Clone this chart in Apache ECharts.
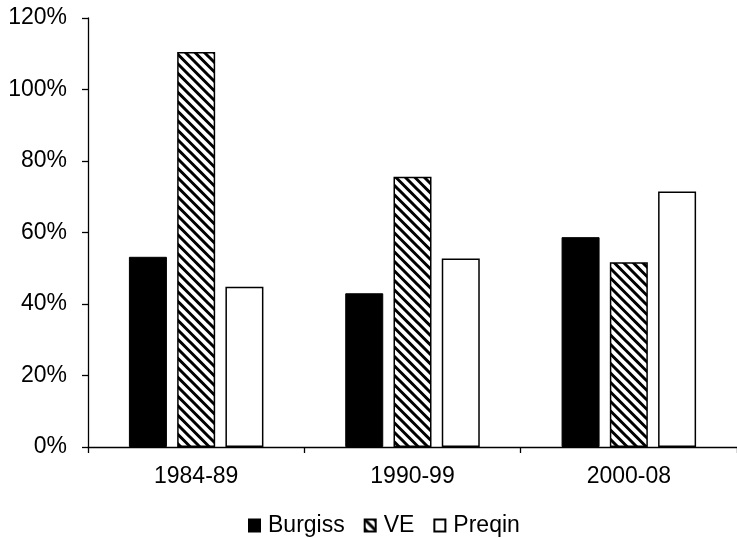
<!DOCTYPE html>
<html>
<head>
<meta charset="utf-8">
<script src="https://cdn.jsdelivr.net/npm/echarts@6/dist/echarts.min.js"></script>
<style>
html,body{margin:0;padding:0;background:#fff;}
#c{width:737px;height:538px;}
</style>
</head>
<body>
<div id="c"></div>
<script>
var categories = ['1984-89', '1990-99', '2000-08'];
var burgiss = [53.2, 43.0, 58.7];
var ve = [110.5, 75.6, 51.7];
var preqin = [44.8, 52.7, 71.5];
var yTicks = [0, 20, 40, 60, 80, 100, 120];

function hatch() {
  var s = 9.5;
  var n = 19;
  var c = document.createElement('canvas');
  c.width = n; c.height = n;
  var g = c.getContext('2d');
  g.fillStyle = '#fff';
  g.fillRect(0, 0, n, n);
  g.strokeStyle = '#000';
  g.lineWidth = 3;
  g.beginPath();
  for (var k = -3; k <= 3; k++) {
    g.moveTo(k * s - 2, -2);
    g.lineTo(k * s + n + 2, n + 2);
  }
  g.stroke();
  return c;
}

var font = 'Liberation Sans, Arial, sans-serif';
var chart = echarts.init(document.getElementById('c'));
chart.setOption({
  animation: false,
  backgroundColor: '#fff',
  grid: {left: 88, right: -9, top: 18, bottom: 91},
  legend: {
    top: 509,
    left: 243,
    itemWidth: 11,
    itemHeight: 12,
    itemGap: 19,
    textStyle: {fontFamily: font, fontSize: 23, color: '#000', padding: [0, 0, 0, 3]},
    data: [{name: 'Burgiss', icon: 'rect'}, {name: 'VE', icon: 'rect'}, {name: 'Preqin', icon: 'rect'}]
  },
  xAxis: {
    type: 'category',
    data: categories,
    axisLine: {lineStyle: {color: '#000', width: 1.3}},
    axisTick: {show: true, length: 6, inside: false, lineStyle: {color: '#000', width: 1.3}},
    axisLabel: {fontFamily: font, fontSize: 23, color: '#000', margin: 18}
  },
  yAxis: {
    type: 'value',
    min: 0,
    max: 120,
    interval: 20,
    axisLine: {show: true, lineStyle: {color: '#000', width: 1.3}},
    axisTick: {show: true, length: 6, lineStyle: {color: '#000', width: 1.3}},
    splitLine: {show: false},
    axisLabel: {
      fontFamily: font, fontSize: 23, color: '#000', margin: 21,
      formatter: function (v) { return yTicks.indexOf(v) >= 0 ? v + '%' : ''; }
    }
  },
  series: [
    {name: 'Burgiss', type: 'bar', data: burgiss, barWidth: 38, barGap: '27%',
     itemStyle: {color: '#000', borderColor: '#000', borderWidth: 1}},
    {name: 'VE', type: 'bar', data: ve, barWidth: 38,
     itemStyle: {color: {image: hatch(), repeat: 'repeat'}, borderColor: '#000', borderWidth: 1.5}},
    {name: 'Preqin', type: 'bar', data: preqin, barWidth: 38,
     itemStyle: {color: '#fff', borderColor: '#000', borderWidth: 1.5}}
  ]
});
</script>
</body>
</html>
